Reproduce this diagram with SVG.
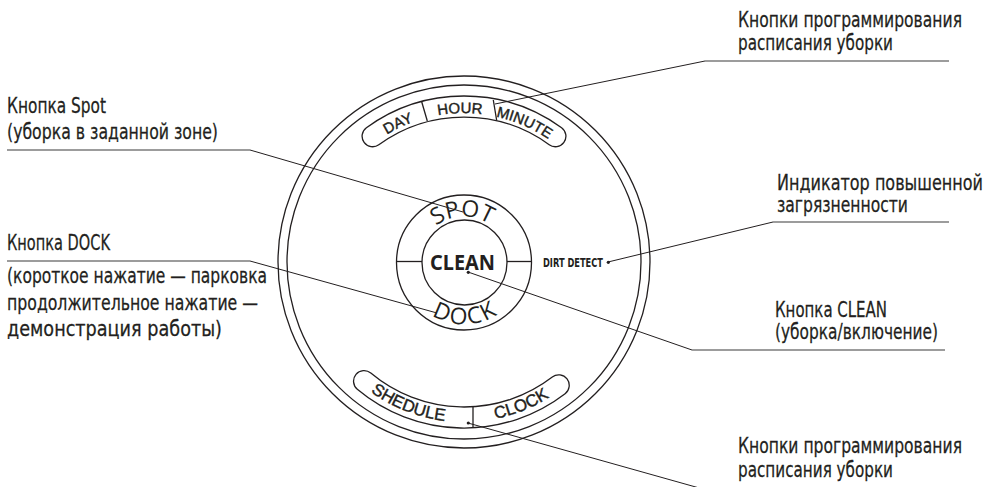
<svg xmlns="http://www.w3.org/2000/svg" width="992" height="487" viewBox="0 0 992 487">
<style>
.ln{fill:none;stroke:#231f20;stroke-width:1.3}
.ld{fill:none;stroke:#231f20;stroke-width:1}
.ul{fill:none;stroke:#3a3a3a;stroke-width:1.1}
.lbl{font-family:"Liberation Sans Narrow","DejaVu Sans Condensed","DejaVu Sans",sans-serif;font-stretch:condensed;font-size:21px;fill:#231f20;stroke:#231f20;stroke-width:0.25}
.band{font-family:"Liberation Sans",Arial,sans-serif;fill:#231f20;stroke:#231f20;stroke-width:0.4}
.ring{font-family:"Open Sans","Noto Sans",sans-serif;font-size:23px;fill:#231f20}
.dot{fill:#231f20}
</style>
<defs>
<path id="topArc" d="M315,262 A149,149 0 0 1 613,262"/>
<path id="botArc" d="M304,262 A160,160 0 0 0 624,262"/>
<path id="spotArc" d="M418,262.5 A46,46 0 0 1 510,262.5"/>
<path id="dockArc" d="M402,262.5 A62,62 0 0 0 526,262.5"/>
</defs>
<rect width="992" height="487" fill="#ffffff"/>

<g id="robot-body">
<circle class="ln" cx="464" cy="262" r="186"/>
<circle class="ln" cx="464" cy="262" r="177"/>
</g>

<g id="schedule-top-buttons">
<path class="ln" d="M366.4,127.7 A166,166 0 0 1 561.6,127.7 A10.5,10.5 0 0 1 549.2,144.7 A145,145 0 0 0 378.8,144.7 A10.5,10.5 0 0 1 366.4,127.7 Z"/>
<line class="ln" x1="421.7" y1="101.7" x2="427.3" y2="121"/>
<line class="ln" x1="493.3" y1="100" x2="496.7" y2="120.5"/>
<text class="band" font-size="15"><textPath href="#topArc" startOffset="167.7" text-anchor="middle">DAY</textPath></text>
<text class="band" font-size="15"><textPath href="#topArc" startOffset="229.9" text-anchor="middle">HOUR</textPath></text>
<text class="band" font-size="15"><textPath href="#topArc" startOffset="294.9" text-anchor="middle">MINUTE</textPath></text>
</g>

<g id="schedule-bottom-buttons">
<path class="ln" d="M357.3,389.2 A166,166 0 0 0 565.1,393.7 A10.5,10.5 0 0 0 552.3,377 A145,145 0 0 1 370.8,373.1 A10.5,10.5 0 0 0 357.3,389.2 Z"/>
<line class="ln" x1="473" y1="406.7" x2="473" y2="427.8"/>
<text class="band" font-size="17"><textPath href="#botArc" startOffset="191.6" text-anchor="middle">SHEDULE</textPath></text>
<text class="band" font-size="17"><textPath href="#botArc" startOffset="312.2" text-anchor="middle">CLOCK</textPath></text>
</g>

<g id="spot-dock-ring">
<circle class="ln" cx="464" cy="262.5" r="67.5"/>
<line class="ln" x1="396.5" y1="261.5" x2="422" y2="261.5"/>
<line class="ln" x1="507" y1="261.5" x2="531.5" y2="261.5"/>
<text class="ring"><textPath href="#spotArc" startOffset="70.7" text-anchor="middle">SPOT</textPath></text>
<text class="ring" letter-spacing="2"><textPath href="#dockArc" startOffset="99" text-anchor="middle">DOCK</textPath></text>
</g>

<g id="clean-button">
<circle class="ln" cx="464.5" cy="262.5" r="42.5"/>
<text x="462.5" y="269.5" font-family="'Noto Sans','Open Sans',sans-serif" font-weight="bold" font-size="20.5" fill="#231f20" text-anchor="middle" textLength="65" lengthAdjust="spacingAndGlyphs">CLEAN</text>
</g>

<g id="dirt-detect">
<text x="543" y="267" font-family="'DejaVu Sans Condensed','Liberation Sans Narrow','DejaVu Sans',sans-serif" font-stretch="condensed" font-weight="bold" font-size="11.5" fill="#231f20" textLength="60" lengthAdjust="spacingAndGlyphs">DIRT DETECT</text>
</g>

<g id="connectors">
<polyline class="ld" points="495,104 705,61"/>
<line class="ul" x1="705" y1="61" x2="949" y2="61"/>
<polyline class="ld" points="250,150 463,212"/>
<line class="ul" x1="7" y1="150" x2="250" y2="150"/>
<polyline class="ld" points="250,261 437,313"/>
<line class="ul" x1="7" y1="261" x2="250" y2="261"/>
<polyline class="ld" points="608,262 773,222"/>
<line class="ul" x1="773" y1="222" x2="949" y2="222"/>
<polyline class="ld" points="468,272 692,350"/>
<line class="ul" x1="692" y1="350" x2="945" y2="350"/>
<polyline class="ld" points="468,423 710,491"/>
<circle class="dot" cx="608.3" cy="262.3" r="1.6"/>
<circle class="dot" cx="468.3" cy="272.3" r="1.6"/>
<circle class="dot" cx="468.3" cy="423" r="1.6"/>
</g>

<g id="label-schedule-top">
<text class="lbl" transform="translate(738,27) scale(0.8,1)" textLength="280" lengthAdjust="spacingAndGlyphs">Кнопки программирования</text>
<text class="lbl" transform="translate(738,50) scale(0.8,1)" textLength="193.75" lengthAdjust="spacingAndGlyphs">расписания уборки</text>
</g>

<g id="label-spot">
<text class="lbl" transform="translate(7,113) scale(0.8,1)" textLength="123.75" lengthAdjust="spacingAndGlyphs">Кнопка Spot</text>
<text class="lbl" transform="translate(7,139) scale(0.8,1)" textLength="263.75" lengthAdjust="spacingAndGlyphs">(уборка в заданной зоне)</text>
</g>

<g id="label-dock">
<text class="lbl" transform="translate(7,250) scale(0.8,1)" textLength="128.75" lengthAdjust="spacingAndGlyphs">Кнопка DOCK</text>
<text class="lbl" transform="translate(7,283) scale(0.8,1)" textLength="325" lengthAdjust="spacingAndGlyphs">(короткое нажатие — парковка</text>
<text class="lbl" transform="translate(7,310) scale(0.8,1)" textLength="313.75" lengthAdjust="spacingAndGlyphs">продолжительное нажатие —</text>
<text class="lbl" transform="translate(7,336) scale(0.8,1)" textLength="268.75" lengthAdjust="spacingAndGlyphs">демонстрация работы)</text>
</g>

<g id="label-dirt">
<text class="lbl" transform="translate(777,190) scale(0.8,1)" textLength="257.5" lengthAdjust="spacingAndGlyphs">Индикатор повышенной</text>
<text class="lbl" transform="translate(777,212) scale(0.8,1)" textLength="163.75" lengthAdjust="spacingAndGlyphs">загрязненности</text>
</g>

<g id="label-clean">
<text class="lbl" transform="translate(775,317) scale(0.8,1)" textLength="140" lengthAdjust="spacingAndGlyphs">Кнопка CLEAN</text>
<text class="lbl" transform="translate(775,339) scale(0.8,1)" textLength="203.75" lengthAdjust="spacingAndGlyphs">(уборка/включение)</text>
</g>

<g id="label-schedule-bottom">
<text class="lbl" transform="translate(738,453) scale(0.8,1)" textLength="280" lengthAdjust="spacingAndGlyphs">Кнопки программирования</text>
<text class="lbl" transform="translate(738,477) scale(0.8,1)" textLength="193.75" lengthAdjust="spacingAndGlyphs">расписания уборки</text>
</g>
</svg>
